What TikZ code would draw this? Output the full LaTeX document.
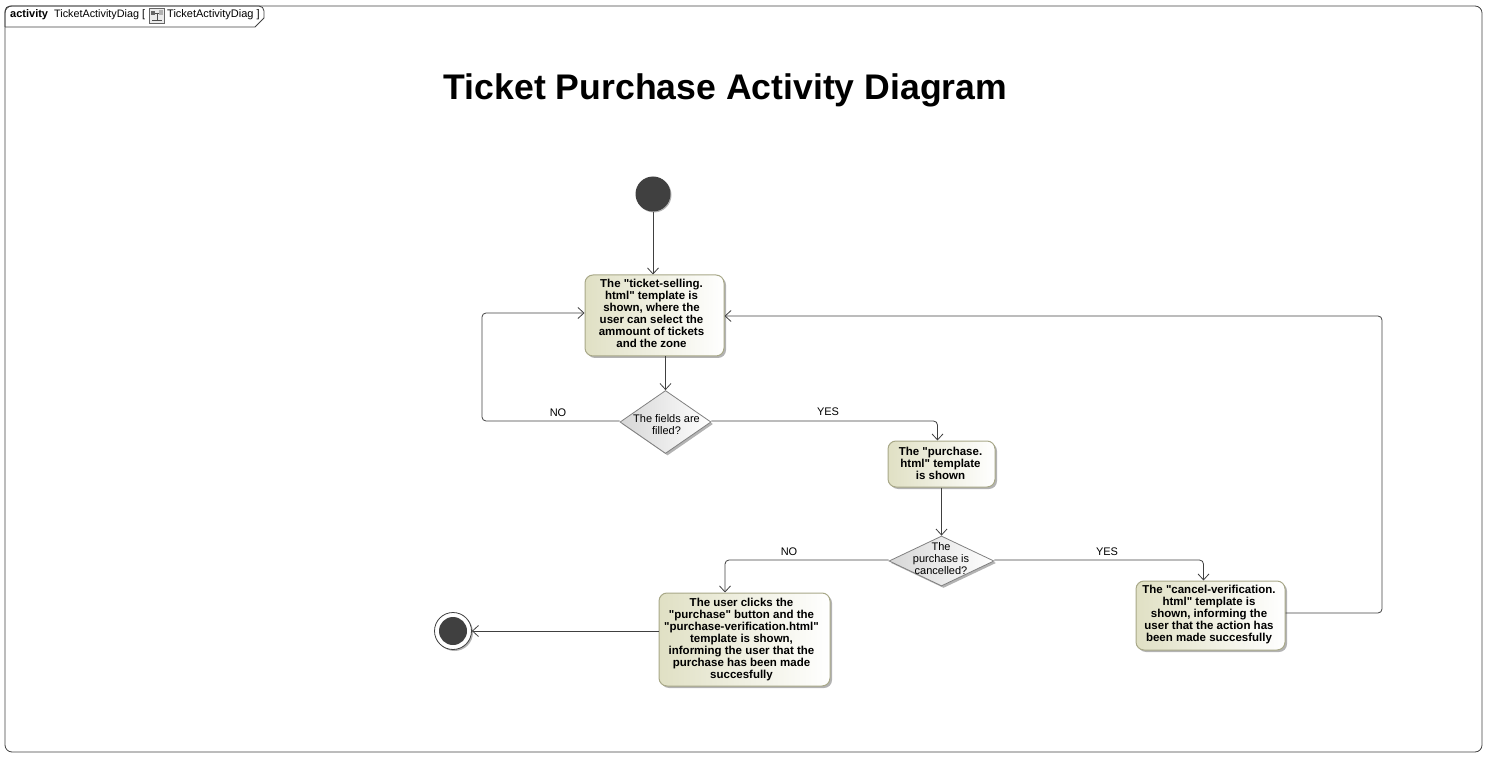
\documentclass[tikz,border=0pt]{standalone}
\usepackage{fontspec}
\newfontfamily\labelfont{Liberation Sans}
\usetikzlibrary{arrows.meta,positioning,shapes.geometric,shadows}
\definecolor{linegray}{HTML}{404040}
\definecolor{boxedge}{HTML}{A8A888}
\definecolor{boxfill}{HTML}{E0E0C4}

\begin{document}
\begin{tikzpicture}[
x=1pt,y=-1pt,
>={Straight Barb[length=6pt,width=11pt]},
action/.style={
	draw=boxedge,
	line width=1pt,
	rounded corners=8pt,
	left color=boxfill,
	right color=white,
	drop shadow={shadow xshift=2pt,shadow yshift=-2pt,fill=black!50,opacity=.6}
},
acttext/.style={
	inner sep=0pt,
	align=center,
	font=\labelfont\fontsize{11.5}{12}\selectfont\bfseries
},
decision/.style={
	diamond,
	draw=gray,
	line width=.8pt,
	inner sep=0pt,
	left color=black!16,
	right color=white,
	drop shadow={shadow xshift=2pt,shadow yshift=-2pt,fill=black!50,opacity=.6}
},
dectext/.style={
	align=center,
	inner sep=0pt,
	font=\labelfont\fontsize{11}{12}\selectfont
},
flowlabel/.style={
	inner sep=0pt,
	font=\labelfont\fontsize{11}{12}\selectfont
},
flow/.style={
	->,
	draw=linegray,
	line width=.8pt,
	rounded corners=4pt
},
dot/.style={
	circle,
	fill=linegray,
	inner sep=0pt,
	drop shadow={shadow xshift=1pt,shadow yshift=-1pt,fill=black!50,opacity=.6}
}
]
\useasboundingbox (0,0) rectangle (1497,767);

% frame and header
\draw[linegray,line width=.8pt,rounded corners=7pt] (5,6) rectangle (1482,752);
\draw[linegray,line width=.8pt,rounded corners=5pt] (5,27) -- (5,6) -- (264,6) -- (264,18);
\draw[linegray,line width=.8pt] (5,27) -- (255,27) -- (264,18);
\node[flowlabel,anchor=base west] (kind) at (10,18) {\bfseries activity};
\node[flowlabel,anchor=base west,font=\labelfont\fontsize{10.8}{12}\selectfont] (frname) at (54,18) {TicketActivityDiag [};
\node[flowlabel,anchor=base west] (frref) at (167,18) {TicketActivityDiag ]};
\draw[black!60,fill=black!8] (149.5,8.5) rectangle (164.5,23.5);
\draw[black!70] (152,20) -- (162,20) (153,13) -- (160,13) (157,13) -- (157,20);
\fill[black!60] (151,11) rectangle (155,15);
\fill[black!30] (159,10) rectangle (163,15);

\node[font=\labelfont\fontsize{35.6}{40}\selectfont\bfseries,inner sep=0pt] (title) at (725.5,90.5) {Ticket Purchase Activity Diagram};

% nodes
\node[dot,minimum size=35pt] (start) at (653,194) {};
\node[action,minimum width=139pt,minimum height=81pt] (sell) at (654.5,315.5) {};
\node[acttext] (selltext) at (651.5,313.5) {The "ticket-selling.\\html" template is\\shown, where the\\user can select the\\ammount of tickets\\and the zone};
\node[decision,minimum width=91pt,minimum height=63pt,aspect=1.45] (filled) at (665.5,422) {};
\node[dectext] (filledtext) at (666.5,424.5) {The fields are\\filled?};
\node[action,minimum width=107pt,minimum height=46pt] (buy) at (941.5,464) {};
\node[acttext] (buytext) at (940.5,463) {The "purchase.\\html" template\\is shown};
\node[decision,minimum width=105pt,minimum height=50pt,aspect=2.1] (cancelled) at (941.5,561) {};
\node[dectext] (cancelledtext) at (941,558.5) {The\\purchase is\\cancelled?};
\node[action,minimum width=171pt,minimum height=93pt] (done) at (744.5,639.5) {};
\node[acttext] (donetext) at (741.5,639.5) {The user clicks the\\"purchase" button and the\\"purchase-verification.html"\\template is shown,\\informing the user that the\\purchase has been made\\succesfully};
\node[action,minimum width=149pt,minimum height=69pt] (undo) at (1210.5,615.5) {};
\node[acttext] (undotext) at (1209,614.5) {The "cancel-verification.\\html" template is\\shown, informing the\\user that the action has\\been made succesfully};
\node[circle,draw=linegray,fill=white,line width=.8pt,minimum size=37pt,inner sep=0pt,drop shadow={shadow xshift=1.5pt,shadow yshift=-1.5pt,fill=black!50,opacity=.6}] (stop) at (453,631) {};
\node[circle,fill=linegray,minimum size=28pt,inner sep=0pt] (stopdot) at (453,631) {};

\coordinate (noturn) at (482,421);
\coordinate (backturn) at (1382,613);

% connectors
\draw[flow] (start) -- (sell.north -| start);
\draw[flow] (sell.south -| filled) -- (filled);
\draw[flow] (filled.west |- noturn) -- (noturn) -- (noturn |- 0,313) -- (sell.west |- 0,313);
\draw[flow] (filled.east |- noturn) -| ([xshift=-4pt]buy.north);
\draw[flow] (buy) -- (cancelled);
\draw[flow] (cancelled.west |- 0,560) -| ([xshift=-19.5pt]done.north);
\draw[flow] (cancelled.east |- 0,560) -| ([xshift=-7pt]undo.north);
\draw[flow] (undo.east |- backturn) -- (backturn) -- (backturn |- 0,316) -- (sell.east |- 0,316);
\draw[flow] (done.west |- stop) -- (stop);

% guard labels
\node[flowlabel] (nofilled) at (558,412.5) {NO};
\node[flowlabel] (yesfilled) at (828,411.5) {YES};
\node[flowlabel] (nocancel) at (789,551.5) {NO};
\node[flowlabel] (yescancel) at (1107,551.5) {YES};
\end{tikzpicture}
\end{document}
